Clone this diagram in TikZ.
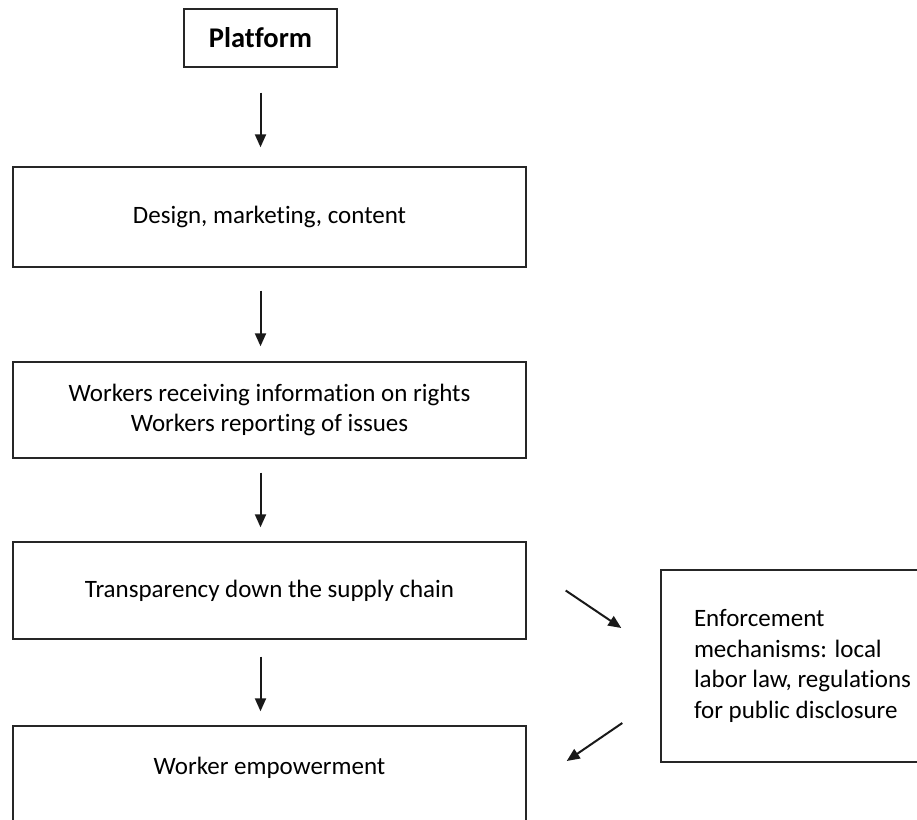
\documentclass[tikz,border=0pt]{standalone}
\usepackage{fontspec}
\setmainfont{Carlito}[Ligatures=NoCommon]
\usepackage{tikz}
\usetikzlibrary{arrows.meta}
\tikzstyle{box}=[draw=black!85,line width=1.4,minimum width=513,inner sep=0,
                 font=\fontsize{25}{30.5}\selectfont,align=center]
\tikzstyle{flow}=[-{Triangle[length=13,width=11]},line width=2,black!90]

\begin{document}
\begin{tikzpicture}[x=1pt,y=-1pt]
  \def\cx{269.5} % column centre
  \useasboundingbox (0,0) rectangle (917,819);

  % MAIN COLUMN
  \node[box,minimum width=153,minimum height=58,font=\fontsize{28.5}{34}\selectfont\bfseries] (platform) at (260.5,38) {Platform};
  \node[box,minimum height=100] (design) at (\cx,217) {Design, marketing, content};
  \node[box,minimum height=96] (workers) at (\cx,410) {Workers receiving information on rights\\Workers reporting of issues};
  \node[box,minimum height=97] (transparency) at (\cx,590.5) {Transparency down the supply chain};
  \node[box,minimum height=100,text depth=21pt] (empower) at (\cx,776) {Worker empowerment};

  % SIDE BOX
  \node[box,minimum width=316,minimum height=192,text width=250pt,align=flush left,inner xsep=33pt] (enforce) at (819,666)
    {Enforcement\\mechanisms: local\\labor law, regulations\\for public disclosure};

  % ARROWS
  \draw[flow,shorten <=25pt,shorten >=19pt] (platform.south) -- (platform.south |- design.north);
  \draw[flow,shorten <=23pt,shorten >=15pt] (platform.south |- design.south) -- (platform.south |- workers.north);
  \draw[flow,shorten <=14pt,shorten >=14pt] (platform.south |- workers.south) -- (platform.south |- transparency.north);
  \draw[flow,shorten <=17pt,shorten >=14pt] (platform.south |- transparency.south) -- (platform.south |- empower.north);
  \draw[flow] ([xshift=39pt]transparency.east) -- ([xshift=-39pt,yshift=38pt]enforce.west);
  \draw[flow] ([xshift=-38pt,yshift=-57pt]enforce.west) -- ([xshift=40pt,yshift=15pt]empower.east);
\end{tikzpicture}
\end{document}
